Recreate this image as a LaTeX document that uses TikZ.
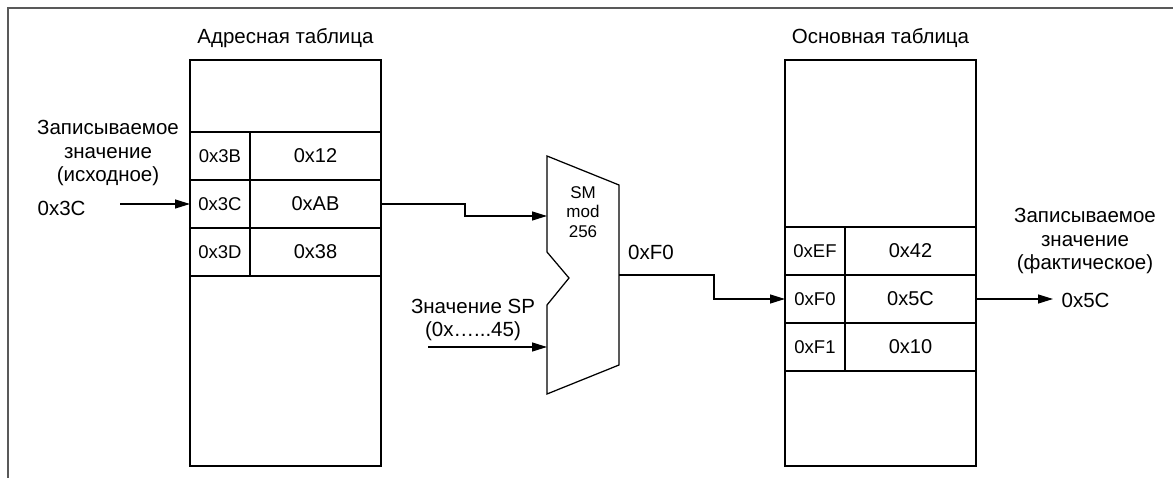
\documentclass[tikz,border=0pt]{standalone}
\usepackage{fontspec}
\setmainfont{Liberation Sans}
\usetikzlibrary{arrows.meta}
\begin{document}
\begin{tikzpicture}[x=1pt,y=-1pt,
  line width=1.25pt,
  lbl/.style={font=\fontsize{20.5}{23.5}\selectfont, align=center, inner sep=0pt},
  cell/.style={draw, inner sep=0pt, outer sep=0pt, minimum height=48pt},
  addr/.style={cell, minimum width=60pt, font=\fontsize{18.5}{22}\selectfont},
  val/.style={cell, minimum width=131pt, font=\fontsize{20}{24}\selectfont},
  tbl/.style={draw, inner sep=0pt, outer sep=0pt, minimum width=191pt, minimum height=406pt},
  arr/.style={-{Triangle[length=15pt,width=9pt]}},
]
\useasboundingbox (0,0) rectangle (1173,478);
\draw[black!65, line width=1.6pt] (1173,8) -- (8,8) -- (8,478);

% left table
\node[tbl] (lt) at (285.5,263) {};
\node[lbl] (ltt) at (285.5,38) {Адресная таблица};
\node[addr] (a3B) at (220,156) {0x3B};
\node[val]  (v3B) at (315.5,156) {0x12};
\node[addr] (a3C) at (220,204) {0x3C};
\node[val]  (v3C) at (315.5,204) {0xAB};
\node[addr] (a3D) at (220,252) {0x3D};
\node[val]  (v3D) at (315.5,252) {0x38};

% right table
\node[tbl] (rt) at (880.5,263) {};
\node[lbl] (rtt) at (880.5,38) {Основная таблица};
\node[addr] (aEF) at (815,251) {0xEF};
\node[val]  (vEF) at (910.5,251) {0x42};
\node[addr] (aF0) at (815,299) {0xF0};
\node[val]  (vF0) at (910.5,299) {0x5C};
\node[addr] (aF1) at (815,347) {0xF1};
\node[val]  (vF1) at (910.5,347) {0x10};

% adder
\draw (547,156) -- (619,185) -- (619,365) -- (547,394) -- (547,305) -- (569,278) -- (547,252) -- cycle;
\node[font=\fontsize{17}{19.5}\selectfont, align=center, inner sep=0pt] (sm) at (583,212) {SM\\mod\\256};
\coordinate (adin1) at (547,216);
\coordinate (adin2) at (547,347);
\coordinate (adout) at (619,275);

% left input
\node[lbl] (inlbl) at (108,153) {Записываемое\\значение\\(исходное)};
\node[lbl, anchor=west] (in3C) at (37,208) {0x3C};
\coordinate (instart) at (120,204);
\draw[arr] (instart) -- (a3C.west);

\draw[arr] (v3C.east) -- ++(84,0) |- (adin1);

% SP input
\node[lbl] (splbl) at (473,320) {Значение SP\\(0x…...45)};
\coordinate (spstart) at (428,347);
\draw[arr] (spstart) -- (adin2);

% output of adder
\node[lbl] (f0lbl) at (651,252) {0xF0};
\draw[arr] (adout) -- ++(95,0) |- (aF0.west);

% right output
\node[lbl] (outlbl) at (1085,241) {Записываемое\\значение\\(фактическое)};
\coordinate (outend) at (1053,299);
\draw[arr] (vF0.east) -- (outend);
\node[lbl, anchor=west] (out5C) at (1061,300) {0x5C};
\end{tikzpicture}
\end{document}
